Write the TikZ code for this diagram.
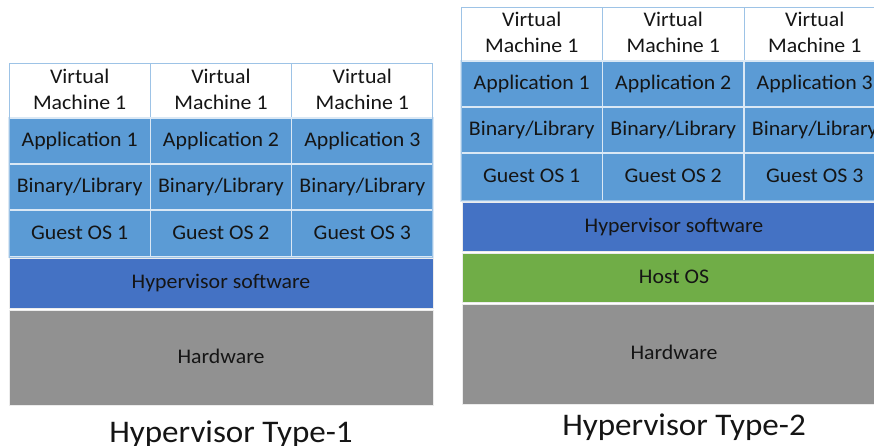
\documentclass[tikz,border=0pt]{standalone}
\usepackage{fontspec}
\setmainfont{Carlito}[FakeStretch=1.05]
\definecolor{appblue}{HTML}{5B9BD5}
\definecolor{hypblue}{HTML}{4472C4}
\definecolor{hostgreen}{HTML}{70AD47}
\definecolor{hwgray}{HTML}{919191}
\definecolor{gridline}{HTML}{9DC3E6}
\definecolor{sepline}{HTML}{DAE8F5}
\definecolor{txt}{HTML}{151515}
\tikzset{
  cellbase/.style={inner sep=0pt, outer sep=0pt, text=txt,
    font=\fontsize{20.8}{26}\selectfont, minimum width=141.33pt},
  vmcell/.style={cellbase, fill=white, draw=gridline, line width=1pt,
    align=center, text depth=4pt},
  bluecell/.style={cellbase, fill=appblue, draw=sepline, line width=1.3pt,
    text height=14pt, text depth=3pt},
  band/.style={cellbase, draw=white!85!gray, line width=1pt,
    text height=14pt, text depth=3pt},
  title/.style={inner sep=0pt, text=txt, anchor=base,
    font=\fontsize{31.5}{38}\selectfont}
}
\begin{document}
\begin{tikzpicture}[x=1pt, y=-1pt]
\useasboundingbox (0,0) rectangle (874,446);
\clip (0,0) rectangle (874,446);

% ---- Type-1: hypervisor directly on the hardware ----
\foreach \i in {1,2,3} {
  \pgfmathsetmacro{\cx}{9+(\i-0.5)*141.33}
  \node[vmcell, minimum height=54pt] (L-vm\i) at (\cx,91) {Virtual\\Machine 1};
  \node[bluecell, minimum height=46pt] (L-app\i) at (\cx,141) {Application \i};
  \node[bluecell, minimum height=46pt] (L-lib\i) at (\cx,187) {Binary/Library};
  \node[bluecell, minimum height=47pt] (L-os\i) at (\cx,233.5) {Guest OS \i};
}
\draw[gridline, line width=1pt] (L-vm1.north west) rectangle (L-os3.south east);
\node[band, fill=hypblue, minimum width=424pt, minimum height=50pt]
  (L-hyp) at (221,283) {Hypervisor software};
\node[band, fill=hwgray, minimum width=424pt, minimum height=95pt]
  (L-hw) at (221,357.5) {Hardware};
\node[title] (L-title) at (231,442) {Hypervisor Type-1};

% ---- Type-2: hypervisor running on a host OS ----
\foreach \i in {1,2,3} {
  \pgfmathsetmacro{\cx}{461+(\i-0.5)*141.5}
  \node[vmcell, minimum width=141.5pt, minimum height=53pt] (R-vm\i) at (\cx,34.5) {Virtual\\Machine 1};
  \node[bluecell, minimum width=141.5pt, minimum height=46pt] (R-app\i) at (\cx,84) {Application \i};
  \node[bluecell, minimum width=141.5pt, minimum height=46pt] (R-lib\i) at (\cx,130) {Binary/Library};
  \node[bluecell, minimum width=141.5pt, minimum height=48pt] (R-os\i) at (\cx,177) {Guest OS \i};
}
\draw[gridline, line width=1pt] (R-vm1.north west) rectangle (R-os3.south east);
\node[band, fill=hypblue, minimum width=424pt, minimum height=48pt]
  (R-hyp) at (674,227) {Hypervisor software};
\node[band, fill=hostgreen, minimum width=424pt, minimum height=49pt]
  (R-host) at (674,277.5) {Host OS};
\node[band, fill=hwgray, minimum width=424pt, minimum height=100pt]
  (R-hw) at (674,354) {Hardware};
\node[title] (R-title) at (684,435) {Hypervisor Type-2};
\end{tikzpicture}
\end{document}
